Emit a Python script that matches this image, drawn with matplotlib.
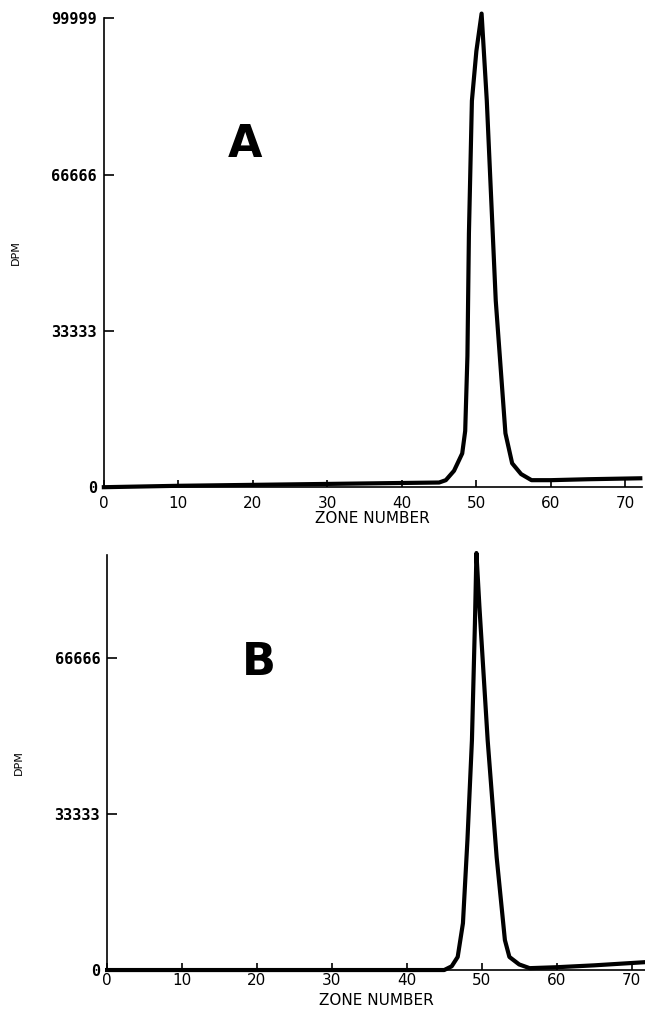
import numpy as np
from matplotlib import pyplot as plt

# panel A
zone_a = [0, 10, 20, 30, 40, 45, 45.9, 47, 48.1, 48.5, 48.8, 49.0, 49.4, 50.0,
          50.7, 51.4, 52.6, 53.9, 54.8, 56, 57.4, 60, 65, 72]
dpm_a = [0, 300, 500, 700, 900, 1000, 1500, 3500, 7200, 12000, 28000, 54100,
         82400, 93000, 101000, 82400, 39800, 11500, 5100, 2800, 1500, 1500,
         1700, 1900]

# panel B
zone_b = [0, 10, 20, 30, 40, 45, 46, 46.8, 47.5, 48.1, 48.7, 49.1, 49.3,
          49.7, 50.8, 52.0, 53.1, 53.7, 55, 56.4, 60, 65, 72]
dpm_b = [0, 0, 0, 0, 0, 0, 800, 2800, 10000, 27800, 49100, 74100, 89100,
         77600, 49100, 24100, 6400, 2800, 1200, 400, 600, 1000, 1700]

xticks = [0, 10, 20, 30, 40, 50, 60, 70]
yticks_a = [0, 33333, 66666, 99999]
yticks_b = [0, 33333, 66666]

fig = plt.figure(figsize=(6.45, 10.15), dpi=100)
ax1 = fig.add_axes([0.161, 0.520, 0.834, 0.462])
ax2 = fig.add_axes([0.166, 0.0443, 0.834, 0.409])

def style(ax, zone, dpm, yticks, ymax, xmax, letter, lpos, xpad, lpad):
    ax.plot(zone, dpm, color='black', lw=3.0, clip_on=False, solid_joinstyle='round')
    ax.set_xlim(0, xmax)
    ax.set_ylim(0, ymax)
    ax.spines['top'].set_visible(False)
    ax.spines['right'].set_visible(False)
    ax.spines['left'].set_linewidth(1.2)
    ax.spines['bottom'].set_linewidth(1.2)
    ax.set_xticks(xticks)
    ax.set_xticklabels([str(t) for t in xticks], fontsize=11)
    ax.set_yticks(yticks)
    ax.set_yticklabels([str(t) for t in yticks], fontsize=11, fontweight='bold',
                       family='DejaVu Sans Mono')
    ax.tick_params(axis='x', direction='in', length=5, width=1.2, pad=xpad)
    ax.tick_params(axis='y', direction='in', length=7, width=1.2, pad=5)
    ax.set_xlabel("ZONE NUMBER", fontsize=11, labelpad=lpad)
    ax.set_ylabel("DPM", fontsize=8, labelpad=22)
    ax.text(lpos[0], lpos[1], letter, transform=ax.transAxes, fontsize=32,
            fontweight='heavy', ha='center', va='center')

style(ax1, zone_a, dpm_a, yticks_a, 100000, 72.2, "A", (0.262, 0.730), 6, 0)
style(ax2, zone_b, dpm_b, yticks_b, 88700, 71.8, "B", (0.282, 0.742), 2, 4)

plt.savefig("out.png", dpi=100)
